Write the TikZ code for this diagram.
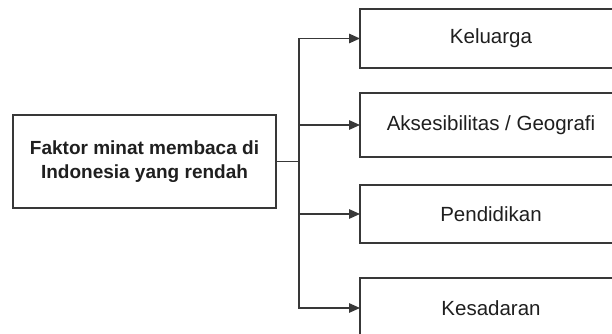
\documentclass[tikz,border=0pt]{standalone}
\usepackage{fontspec}
\setmainfont{Liberation Sans}
\usetikzlibrary{arrows.meta}
\begin{document}
\begin{tikzpicture}[x=1pt,y=-1pt,
  box/.style={draw=black!78,line width=1.4pt,fill=white,inner sep=0pt,outer sep=0pt,anchor=north west,
    text=black!88,font=\fontsize{20.5}{23}\selectfont},
  mainbox/.style={box,font=\fontsize{19}{23.5}\selectfont\bfseries,align=center},
  link/.style={draw=black!78,line width=1.4pt},
  arr/.style={link,-{Triangle[length=11pt,width=9.5pt]}}]
\useasboundingbox (0,0) rectangle (612,334);
\clip (0,0) rectangle (612,334);
\fill[white] (0,0) rectangle (612,334);
\node[mainbox,minimum width=263pt,minimum height=93pt] (m) at (13,115) {Faktor minat membaca di\\Indonesia yang rendah};
\node[box,minimum width=262pt,minimum height=59pt] (k1) at (360,9) {Keluarga};
\node[box,minimum width=262pt,minimum height=64pt] (k2) at (360,93) {Aksesibilitas / Geografi};
\node[box,minimum width=262pt,minimum height=58pt] (k3) at (360,185) {Pendidikan};
\node[box,minimum width=262pt,minimum height=60pt] (k4) at (360,278) {Kesadaran};
\coordinate (j) at (299,161.5);
\draw[link] (m.east) -- (j);
\draw[arr] (j) |- (k1.west);
\draw[arr] (j) |- (k2.west);
\draw[arr] (j) |- (k3.west);
\draw[arr] (j) |- (k4.west);
\end{tikzpicture}
\end{document}
